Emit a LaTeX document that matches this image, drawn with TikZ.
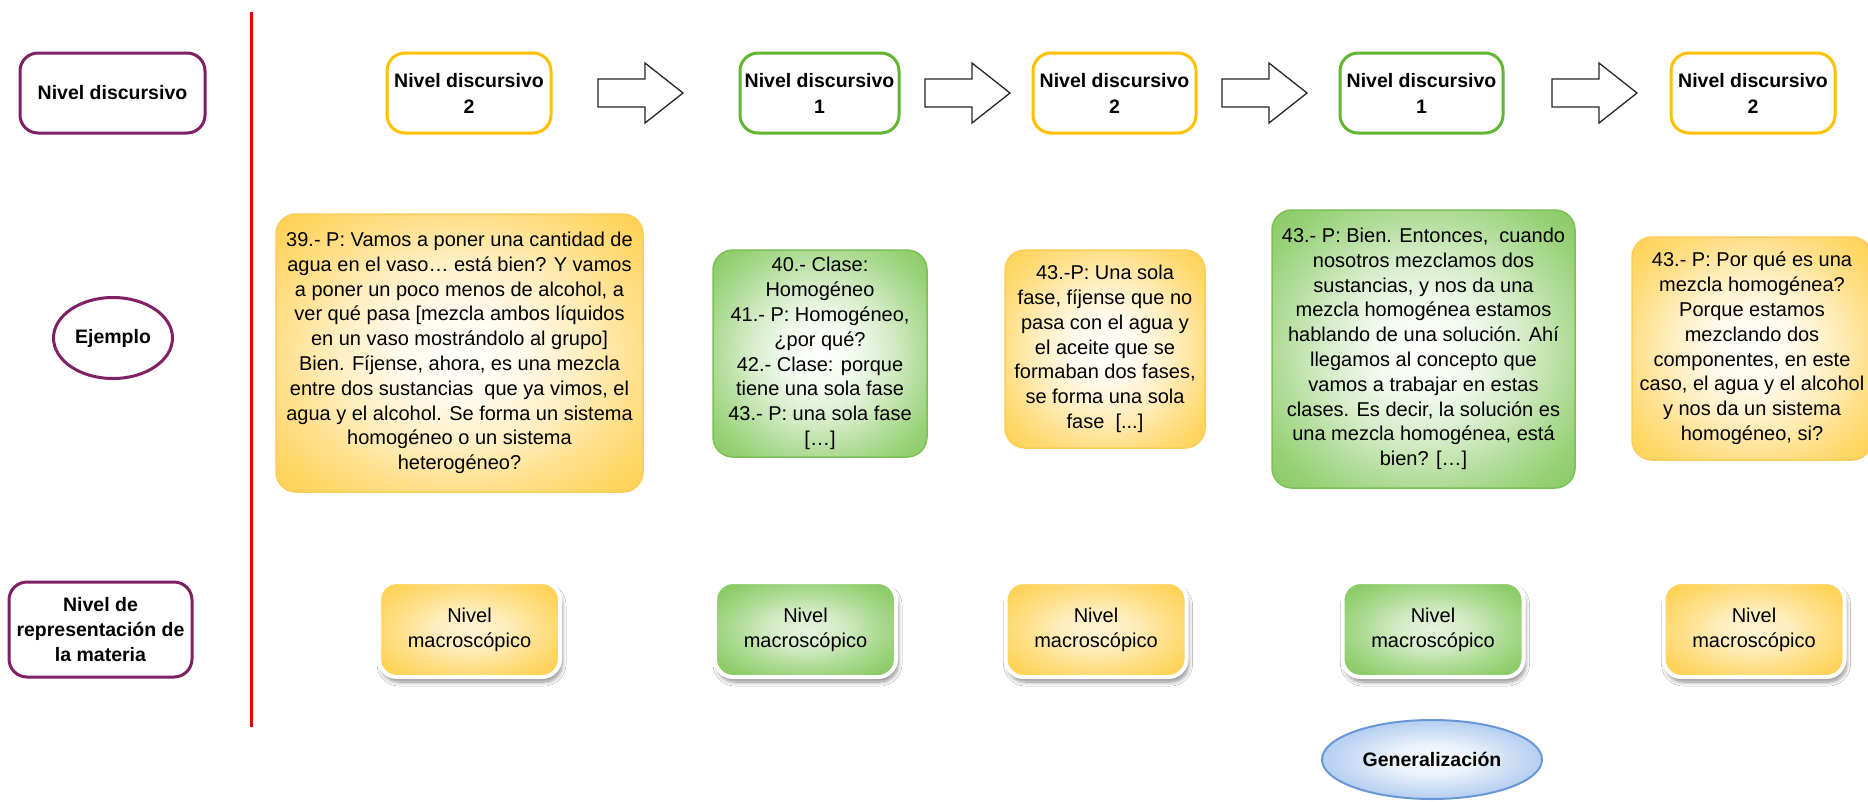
\documentclass[tikz,border=0pt]{standalone}
\usepackage{fontspec}
\setmainfont{Liberation Sans}
\usetikzlibrary{shapes.geometric,shadows,shadows.blur}
\definecolor{purp}{RGB}{128,32,100}
\definecolor{sepred}{RGB}{230,0,0}
\definecolor{gold}{RGB}{255,192,0}
\definecolor{topgrn}{RGB}{98,182,52}
\definecolor{ylw}{RGB}{255,210,88}
\definecolor{ylwb}{RGB}{252,205,90}
\definecolor{grn}{RGB}{140,204,104}
\definecolor{grnb}{RGB}{122,192,84}
\definecolor{blu}{RGB}{150,187,235}
\definecolor{blub}{RGB}{105,150,215}
\pgfdeclareradialshading{softY}{\pgfpoint{0bp}{0bp}}{color(0bp)=(white); color(8bp)=(ylw!10!white); color(17bp)=(ylw!38!white); color(24bp)=(ylw!68!white); color(30bp)=(ylw!90!white); color(34bp)=(ylw); color(75bp)=(ylw)}
\pgfdeclareradialshading{softG}{\pgfpoint{0bp}{0bp}}{color(0bp)=(white); color(8bp)=(grn!10!white); color(17bp)=(grn!38!white); color(24bp)=(grn!68!white); color(30bp)=(grn!90!white); color(34bp)=(grn); color(75bp)=(grn)}
\pgfdeclareradialshading{macsY}{\pgfpoint{0bp}{0bp}}{color(0bp)=(ylw!25!white); color(10bp)=(ylw!40!white); color(20bp)=(ylw!72!white); color(30bp)=(ylw); color(75bp)=(ylw)}
\pgfdeclareradialshading{macsG}{\pgfpoint{0bp}{0bp}}{color(0bp)=(grn!22!white); color(10bp)=(grn!38!white); color(20bp)=(grn!72!white); color(30bp)=(grn); color(75bp)=(grn)}
\pgfdeclareradialshading{softB}{\pgfpoint{0bp}{0bp}}{color(0bp)=(white); color(10bp)=(blu!20!white); color(20bp)=(blu!55!white); color(29bp)=(blu!85!white); color(35bp)=(blu); color(75bp)=(blu)}
\newcommand\txtsz{\fontsize{20}{24.8}\selectfont}
\newcommand\bsz{\fontsize{19.5}{26}\selectfont\bfseries}
\begin{document}
\begin{tikzpicture}[x=1pt,y=-1pt,
  lvlbox/.style={rounded corners=18pt, line width=3pt, fill=white, font=\bsz,
    align=center, minimum height=80pt, inner sep=0pt},
  pbox/.style={lvlbox, draw=purp},
  gbox/.style={lvlbox, draw=gold},
  vbox/.style={lvlbox, draw=topgrn},
  pell/.style={ellipse, draw=purp, line width=3pt, fill=white, font=\bsz,
    minimum width=119pt, minimum height=81pt, inner sep=0pt},
  sepline/.style={draw=sepred, line width=3pt},
  barrow/.style={draw=black!85, line width=1.3pt, fill=white, line join=miter},
  exbox/.style={rounded corners=20pt, line width=1.5pt, font=\txtsz,
    align=center, inner sep=0pt},
  exY/.style={exbox, draw=ylwb, shade, shading=softY},
  exG/.style={exbox, draw=grnb, shade, shading=softG},
  macbox/.style={rounded corners=18pt, draw=white, line width=4pt, font=\txtsz,
    align=center, inner sep=0pt, minimum width=181pt, minimum height=95pt,
    blur shadow={shadow xshift=2pt, shadow yshift=-5pt, shadow blur radius=4pt,
      shadow blur steps=8, shadow opacity=45}},
  macY/.style={macbox, shade, shading=macsY},
  macG/.style={macbox, shade, shading=macsG},
  gen/.style={ellipse, draw=blub, line width=2pt, shade, shading=softB,
    font=\bsz, minimum width=220pt, minimum height=79pt, inner sep=0pt}
]
\useasboundingbox (0,0) rectangle (1868,801);
\clip (0,0) rectangle (1868,801);
\fill[white] (0,0) rectangle (1868,801);

% left labels
\node[pbox, minimum width=185pt] (lab1) at (112.5,93) {Nivel discursivo};
\node[pell] (lab2) at (113,338) {Ejemplo};
\node[pbox, minimum width=183pt, minimum height=95pt, font=\fontsize{19.5}{25}\selectfont\bfseries] (lab3) at (100.5,629.5) {Nivel de\\representación de\\la materia};

% separator
\coordinate (rt) at (251,12);
\coordinate (rb) at (251,727);
\draw[sepline] (rt) -- (rb);

% top row
\node[gbox, minimum width=164pt] (n1) at (469,93) {Nivel discursivo\\2};
\node[vbox, minimum width=159pt] (n2) at (819.5,93) {Nivel discursivo\\1};
\node[gbox, minimum width=163pt] (n3) at (1114.5,93) {Nivel discursivo\\2};
\node[vbox, minimum width=163pt] (n4) at (1421.5,93) {Nivel discursivo\\1};
\node[gbox, minimum width=164pt] (n5) at (1753,93) {Nivel discursivo\\2};

\coordinate (a1) at (598,93);
\coordinate (a2) at (925,93);
\coordinate (a3) at (1222,93);
\coordinate (a4) at (1552,93);
\foreach \a in {a1,a2,a3,a4}{
  \draw[barrow] (\a) ++(0,-14) -- ++(47,0) -- ++(0,-16) -- ++(38,30) -- ++(-38,30)
    -- ++(0,-16) -- ++(-47,0) -- cycle;
}

% examples
\node[exY, minimum width=367pt, minimum height=278pt] (e1) at (459.5,353) {39.- P: Vamos a poner una cantidad de\\agua en el vaso… está bien? Y vamos\\a poner un poco menos de alcohol, a\\ver qué pasa [mezcla ambos líquidos\\en un vaso mostrándolo al grupo]\\Bien. Fíjense, ahora, es una mezcla\\entre dos sustancias~ que ya vimos, el\\agua y el alcohol. Se forma un sistema\\homogéneo o un sistema\\heterogéneo?};
\node[exG, minimum width=214pt, minimum height=207pt] (e2) at (820,353.5) {40.- Clase:\\Homogéneo\\41.- P: Homogéneo,\\¿por qué?\\42.- Clase: porque\\tiene una sola fase\\43.- P: una sola fase\\{[…]}};
\node[exY, minimum width=200pt, minimum height=198pt] (e3) at (1105,349) {43.-P: Una sola\\fase, fíjense que no\\pasa con el agua y\\el aceite que se\\formaban dos fases,\\se forma una sola\\fase~ [...]};
\node[exG, minimum width=303pt, minimum height=278pt] (e4) at (1423.5,349) {43.- P: Bien. Entonces,~ cuando\\nosotros mezclamos dos\\sustancias, y nos da una\\mezcla homogénea estamos\\hablando de una solución. Ahí\\llegamos al concepto que\\vamos a trabajar en estas\\clases. Es decir, la solución es\\una mezcla homogénea, está\\bien? […]};
\node[exY, minimum width=240pt, minimum height=223pt] (e5) at (1752,348.5) {43.- P: Por qué es una\\mezcla homogénea?\\Porque estamos\\mezclando dos\\componentes, en este\\caso, el agua y el alcohol\\y nos da un sistema\\homogéneo, si?};

% bottom row
\node[macY] (m1) at (469.5,629.5) {Nivel\\macroscópico};
\node[macG] (m2) at (805.5,629.5) {Nivel\\macroscópico};
\node[macY] (m3) at (1096,629.5) {Nivel\\macroscópico};
\node[macG] (m4) at (1433,629.5) {Nivel\\macroscópico};
\node[macY] (m5) at (1754,629.5) {Nivel\\macroscópico};

\node[gen] (g) at (1432,759.5) {Generalización};
\end{tikzpicture}
\end{document}
